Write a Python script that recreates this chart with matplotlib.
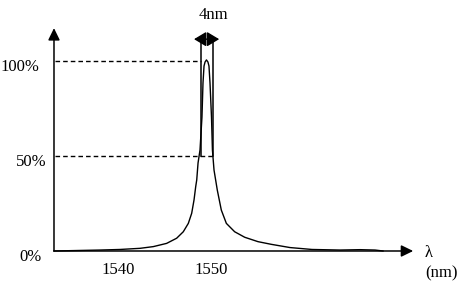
import numpy as np
import matplotlib.pyplot as plt

plt.rcParams['font.family'] = ['Liberation Serif', 'DejaVu Serif']

# transmission curve (wavelength nm, percent)
wl = [1533.15, 1538.07, 1540.21, 1542.36, 1543.78, 1545.21, 1546.28, 1546.99,
      1547.53, 1547.89, 1548.14, 1548.32, 1548.43, 1548.57, 1548.78, 1548.99,
      1549.10, 1549.21, 1549.32, 1549.47, 1549.63, 1549.74, 1549.85, 1550.01,
      1550.11, 1550.28, 1550.63, 1551.06, 1551.60, 1552.49, 1553.57, 1554.99,
      1556.41, 1558.42, 1560.77, 1563.77, 1565.91, 1567.52, 1568.37]
trans = [0.0, 0.5, 0.8, 1.4, 2.3, 4.0, 6.7, 10.1,
         14.5, 19.8, 26.8, 33.8, 37.3, 46.2, 53.0, 70.3,
         88.2, 97.1, 99.2, 100.3, 99.2, 97.1, 88.2, 70.3,
         53.0, 42.5, 32.0, 21.5, 14.5, 10.1, 7.2, 4.9,
         3.5, 1.8, 0.8, 0.5, 0.7, 0.5, 0.0]

x_ticks = [1540, 1550]
y_levels = [0, 50, 100]
y_labels = ['0%', '50%', '100%']
band_lo, band_hi = 1548.84, 1550.13   # 4nm marker lines
band_label = '4nm'

x0 = 1533.15      # axis origin
x_end = 1571.6    # x arrow tip
y_end = 117.0     # y arrow tip
arrow_y = 111.2   # height of the width marker

fig = plt.figure(figsize=(4.64, 3.03), dpi=100)
ax = fig.add_axes([0, 0, 1, 1])
ax.set_xlim(1527.37, 1577.04)
ax.set_ylim(-27.3, 131.76)
ax.axis('off')

ax.plot(wl, trans, color='black', lw=1.0, solid_joinstyle='round')

# axes with arrow heads
ax.annotate('', xy=(x0, y_end), xytext=(x0, 0),
            arrowprops=dict(arrowstyle='-|>,head_length=0.45,head_width=0.22',
                            color='black', lw=1.1, mutation_scale=16,
                            shrinkA=0, shrinkB=0))
ax.annotate('', xy=(x_end, 0), xytext=(x0, 0),
            arrowprops=dict(arrowstyle='-|>,head_length=0.45,head_width=0.22',
                            color='black', lw=1.1, mutation_scale=16,
                            shrinkA=0, shrinkB=0))

# dashed guide lines at 100% and 50%
ax.plot([x0 + 0.1, band_lo], [100, 100], color='black', lw=1.0, dashes=(3.3, 2.2))
ax.plot([x0 + 0.1, band_hi], [50, 50], color='black', lw=1.0, dashes=(3.3, 2.2))

# vertical band lines and double arrow
for xb in (band_lo, band_hi):
    ax.plot([xb, xb], [50, arrow_y + 1.0], color='black', lw=1.1)
ax.annotate('', xy=(band_lo - 0.7, arrow_y), xytext=(band_hi + 0.7, arrow_y),
            arrowprops=dict(arrowstyle='<|-|>,head_length=0.55,head_width=0.33',
                            color='black', lw=1.0, mutation_scale=13.5,
                            shrinkA=0, shrinkB=0))
ax.text((band_lo + band_hi) / 2 + 0.7, 123.9, band_label, ha='center', va='center',
        fontsize=12)

# tick labels
for xt in x_ticks:
    ax.annotate(str(xt), xy=(xt, 0), xytext=(0, -14), textcoords='offset points',
                ha='center', va='center', fontsize=12)
y_right = {0: 1531.82, 50: 1532.36, 100: 1531.54}
for lv, lab in zip(y_levels, y_labels):
    ax.annotate(lab, xy=(y_right[lv], lv), xytext=(0, -4.5), textcoords='offset points',
                ha='right', va='center', fontsize=12)

ax.text(1572.87, -1.0, 'λ', ha='left', va='center', fontsize=12)
ax.text(1574.58, -11.5, '(nm)', ha='center', va='center', fontsize=12)

fig.savefig('out.png', dpi=100)
